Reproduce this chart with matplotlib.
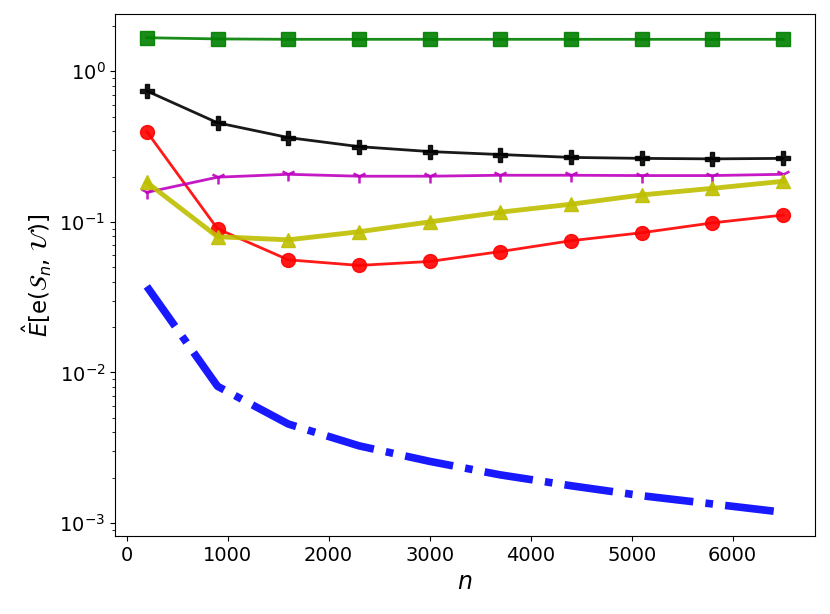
import numpy as np
import matplotlib
matplotlib.use('Agg')
import matplotlib.pyplot as plt

n = [200, 900, 1600, 2300, 3000, 3700, 4400, 5100, 5800, 6500]

green = [1.67, 1.64, 1.63, 1.63, 1.63, 1.63, 1.63, 1.63, 1.63, 1.63]
black = [0.74, 0.455, 0.363, 0.316, 0.293, 0.28, 0.268, 0.264, 0.262, 0.264]
red = [0.397, 0.090, 0.056, 0.0514, 0.0546, 0.0635, 0.075, 0.0847, 0.0985, 0.111]
magenta = [0.157, 0.198, 0.207, 0.201, 0.201, 0.204, 0.204, 0.203, 0.203, 0.207]
yellow = [0.183, 0.0797, 0.076, 0.086, 0.1, 0.116, 0.131, 0.151, 0.167, 0.186]
blue = [0.0373, 0.0081, 0.00455, 0.00326, 0.00257, 0.00209, 0.00177, 0.00152, 0.00134, 0.00118]

fig = plt.figure(figsize=(8.3, 6.14), dpi=100)
ax = fig.add_axes([115/830, 1 - 536/614, 700/830, 522/614])

ax.plot(n, green, color='g', marker='s', ms=9.5, lw=2, alpha=0.9)
ax.plot(n, black, color='k', marker='P', ms=10.5, lw=2, alpha=0.9)
ax.plot(n, red, color='r', marker='o', ms=10, lw=2, alpha=0.9)
ax.plot(n, magenta, color='m', marker='1', ms=10, mew=1.8, lw=2, alpha=0.9)
ax.plot(n, yellow, color='y', marker='^', ms=10.5, lw=3.5, alpha=0.9)
ax.plot(n, blue, color='b', ls='-.', lw=5.5, alpha=0.9)

ax.set_yscale('log')
ax.tick_params(labelsize=14)
ax.set_xlabel(r'$n$', fontsize=17)
ax.set_ylabel(r'$\hat{E}$[e($\mathcal{S}_n$, $\mathcal{U}$)]', fontsize=16.5)

fig.savefig('out.png', dpi=100)
